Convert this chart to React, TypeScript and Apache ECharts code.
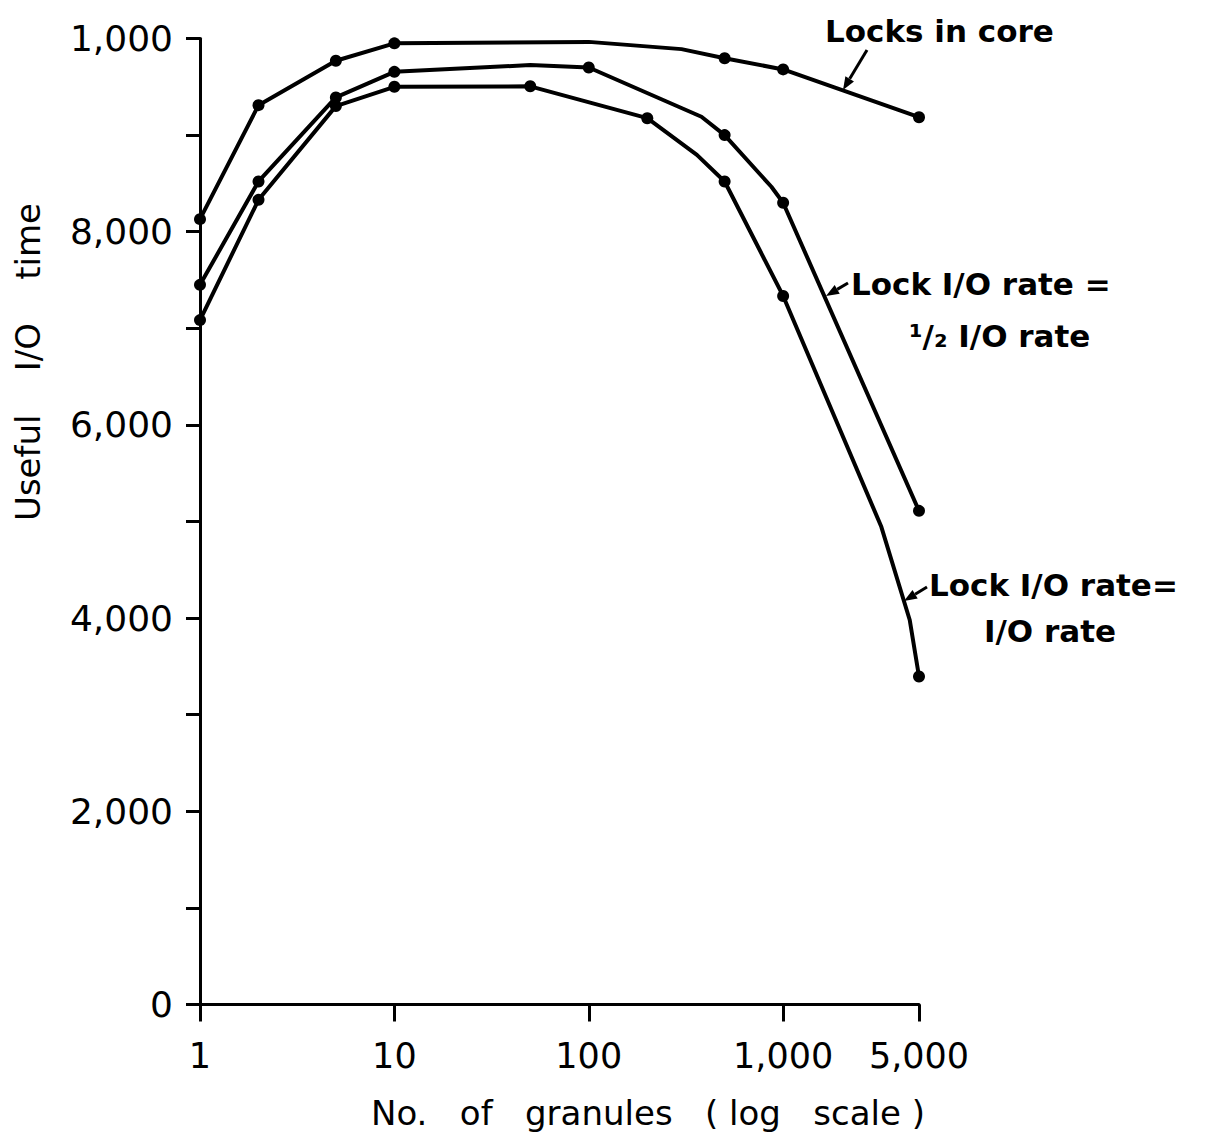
import React, { useEffect, useRef } from 'react';
import * as echarts from 'echarts';

// ---- data ----
const yTickValues = [0, 2000, 4000, 6000, 8000, 10000];
const yTickLabels = ['0', '2,000', '4,000', '6,000', '8,000', '1,000'];
const xTickValues = [1, 10, 100, 1000, 5000];
const xTickLabels = ['1', '10', '100', '1,000', '5,000'];

// Locks in core
const coreX = [1, 2, 5, 10, 100, 300, 500, 1000, 5000];
const coreY = [8130, 9310, 9770, 9950, 9965, 9890, 9795, 9680, 9185];
const coreMarked = [1, 1, 1, 1, 0, 0, 1, 1, 1];

// Lock I/O rate = 1/2 I/O rate
const halfX = [1, 2, 5, 10, 50, 100, 380, 500, 870, 1000, 5000];
const halfY = [7450, 8520, 9390, 9655, 9725, 9700, 9190, 9000, 8465, 8300, 5110];
const halfMarked = [1, 1, 1, 1, 0, 1, 0, 1, 0, 1, 1];

// Lock I/O rate = I/O rate
const fullX = [1, 2, 5, 10, 50, 200, 360, 500, 1000, 3200, 4480, 5000];
const fullY = [7085, 8330, 9300, 9500, 9505, 9175, 8795, 8520, 7335, 4945, 3980, 3395];
const fullMarked = [1, 1, 1, 1, 1, 1, 0, 1, 1, 0, 0, 1];

const FONT = '"DejaVu Sans", sans-serif';

function buildData(xs: number[], ys: number[], marks: number[]) {
  return xs.map((x, i) => ({
    value: [Math.log10(x), ys[i]],
    symbol: marks[i] ? 'circle' : 'none',
  }));
}

function arrow(x1: number, y1: number, x2: number, y2: number) {
  const dx = x2 - x1;
  const dy = y2 - y1;
  const len = Math.sqrt(dx * dx + dy * dy);
  const ux = dx / len;
  const uy = dy / len;
  const hl = 13;
  const hw = 5;
  const bx = x2 - ux * hl;
  const by = y2 - uy * hl;
  return [
    {
      type: 'line',
      shape: { x1, y1, x2: bx, y2: by },
      style: { stroke: '#000', lineWidth: 3 },
    },
    {
      type: 'polygon',
      shape: {
        points: [
          [x2, y2],
          [bx - uy * hw, by + ux * hw],
          [bx + uy * hw, by - ux * hw],
        ],
      },
      style: { fill: '#000' },
    },
  ];
}

function label(text: string, x: number, y: number, size = 31) {
  return {
    type: 'text',
    x,
    y,
    style: {
      text,
      fontSize: size,
      fontWeight: 'bold',
      fontFamily: FONT,
      fill: '#000',
      align: 'left',
      verticalAlign: 'middle',
    },
  };
}

function lookup(values: number[], labels: string[], v: number, log: boolean) {
  for (let i = 0; i < values.length; i++) {
    const t = log ? Math.log10(values[i]) : values[i];
    if (Math.abs(t - v) < 1e-6) return labels[i];
  }
  return '';
}

export default function App() {
  const ref = useRef<HTMLDivElement>(null);

  useEffect(() => {
    document.body.style.margin = '0';
    if (!ref.current) return;
    const chart = echarts.init(ref.current, null, { renderer: 'svg' });

    const lineCommon = {
      type: 'line',
      symbolSize: 12,
      showAllSymbol: true,
      lineStyle: { color: '#000', width: 4 },
      itemStyle: { color: '#000' },
      emphasis: { disabled: true },
      silent: true,
    };

    const xLogTicks = xTickValues.map((v) => Math.log10(v));

    chart.setOption({
      animation: false,
      backgroundColor: '#fff',
      grid: {
        left: 200,
        top: 38.5,
        width: 719,
        height: 966,
        containLabel: false,
        outerBoundsMode: 'none',
      },
      xAxis: {
        type: 'value',
        min: 0,
        max: Math.log10(5000),
        splitLine: { show: false },
        axisLine: { show: true, onZero: false, lineStyle: { color: '#000', width: 3 } },
        axisTick: {
          show: true,
          customValues: xLogTicks,
          length: 17,
          lineStyle: { color: '#000', width: 3 },
        },
        axisLabel: {
          customValues: xLogTicks,
          margin: 34,
          color: '#000',
          fontSize: 35,
          fontFamily: FONT,
          formatter: (v: number) => lookup(xTickValues, xTickLabels, v, true),
        },
      },
      yAxis: {
        type: 'value',
        min: 0,
        max: 10000,
        interval: 1000,
        splitLine: { show: false },
        axisLine: { show: true, lineStyle: { color: '#000', width: 3 } },
        axisTick: { show: true, length: 14, lineStyle: { color: '#000', width: 3 } },
        axisLabel: {
          customValues: yTickValues,
          margin: 27,
          color: '#000',
          fontSize: 36,
          fontFamily: FONT,
          formatter: (v: number) => lookup(yTickValues, yTickLabels, v, false),
        },
      },
      series: [
        { ...lineCommon, name: 'Locks in core', data: buildData(coreX, coreY, coreMarked) },
        { ...lineCommon, name: 'Lock I/O rate = 1/2 I/O rate', data: buildData(halfX, halfY, halfMarked) },
        { ...lineCommon, name: 'Lock I/O rate = I/O rate', data: buildData(fullX, fullY, fullMarked) },
      ],
      graphic: [
        label('Locks in core', 825, 31),
        ...arrow(867, 50, 843, 90),
        label('Lock I/O rate =', 851, 284),
        label('¹/₂ I/O rate', 909, 336),
        ...arrow(848, 283, 826, 296),
        label('Lock I/O rate=', 929, 585),
        label('I/O rate', 984, 631),
        ...arrow(927, 587, 904, 601),
        {
          type: 'text',
          x: 648,
          y: 1113,
          style: {
            text: 'No.   of   granules   ( log   scale )',
            fontSize: 34,
            fontFamily: FONT,
            fill: '#000',
            align: 'center',
            verticalAlign: 'middle',
          },
        },
        {
          type: 'text',
          x: 28,
          y: 362,
          rotation: Math.PI / 2,
          style: {
            text: 'Useful    I/O    time',
            fontSize: 34,
            fontFamily: FONT,
            fill: '#000',
            align: 'center',
            verticalAlign: 'middle',
          },
        },
      ],
    });

    return () => {
      chart.dispose();
    };
  }, []);

  return <div ref={ref} style={{ width: 1223, height: 1138 }} />;
}
